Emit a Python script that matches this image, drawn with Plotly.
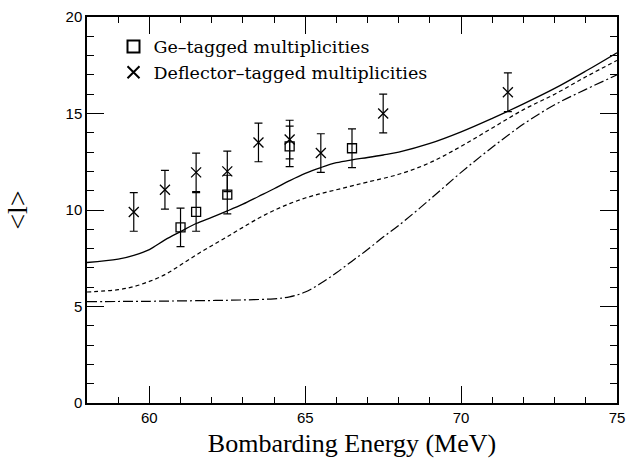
import plotly.graph_objects as go

# Data
ge_x = [61.0, 61.5, 62.5, 64.5, 66.5]
ge_y = [9.1, 9.9, 10.8, 13.3, 13.2]
ge_err = [1.0, 1.0, 1.0, 1.05, 1.0]

def_x = [59.5, 60.5, 61.5, 62.5, 63.5, 64.5, 65.5, 67.5, 71.5]
def_y = [9.9, 11.05, 11.95, 12.0, 13.5, 13.65, 12.95, 15.0, 16.1]
def_err = [1.0, 1.0, 1.0, 1.05, 1.0, 1.0, 1.0, 1.0, 1.0]

solid_x = [58.0, 59.0, 59.5, 60.0, 60.5, 61.0, 61.5, 62.0, 62.5, 63.0, 63.5, 64.0, 64.5, 65.0, 65.5, 66.0, 66.5, 67.0, 67.5, 68.0, 69.0, 70.0, 71.0, 72.0, 73.0, 74.0, 75.0]
solid_y = [7.28, 7.45, 7.65, 7.95, 8.45, 8.88, 9.3, 9.62, 9.95, 10.3, 10.7, 11.1, 11.52, 11.9, 12.2, 12.45, 12.6, 12.72, 12.85, 13.0, 13.45, 14.05, 14.75, 15.5, 16.3, 17.2, 18.15]

dash_x = [58.0, 59.0, 59.5, 60.0, 60.5, 61.0, 61.5, 62.0, 62.5, 63.0, 63.5, 64.0, 64.5, 65.0, 65.5, 66.0, 66.5, 67.0, 68.0, 69.0, 70.0, 71.0, 72.0, 73.0, 74.0, 75.0]
dash_y = [5.75, 5.87, 6.03, 6.3, 6.65, 7.15, 7.67, 8.15, 8.62, 9.1, 9.57, 9.98, 10.33, 10.62, 10.85, 11.05, 11.25, 11.45, 11.85, 12.45, 13.3, 14.25, 15.2, 16.0, 16.9, 17.75]

dd_x = [58.0, 59.0, 60.0, 61.0, 62.0, 63.0, 64.0, 64.5, 65.0, 65.5, 66.0, 66.5, 67.0, 67.5, 68.0, 69.0, 70.0, 71.0, 72.0, 73.0, 74.0, 75.0]
dd_y = [5.25, 5.26, 5.27, 5.29, 5.31, 5.34, 5.4, 5.5, 5.75, 6.2, 6.75, 7.35, 7.95, 8.6, 9.2, 10.55, 11.95, 13.25, 14.45, 15.45, 16.25, 17.0]

xtick_vals = [60, 65, 70, 75]
ytick_vals = [0, 5, 10, 15, 20]

fig = go.Figure()

fig.add_trace(go.Scatter(x=solid_x, y=solid_y, mode="lines", line=dict(color="black", width=1.3, shape="spline"), showlegend=False))
fig.add_trace(go.Scatter(x=dash_x, y=dash_y, mode="lines", line=dict(color="black", width=1.2, dash="4px,3px", shape="spline"), showlegend=False))
fig.add_trace(go.Scatter(x=dd_x, y=dd_y, mode="lines", line=dict(color="black", width=1.2, dash="10px,3px,2px,3px", shape="spline"), showlegend=False))

fig.add_trace(go.Scatter(
    x=ge_x, y=ge_y, mode="markers", name="Ge\u2013tagged multiplicities",
    marker=dict(symbol="square-open", size=9, color="black", line=dict(width=1.3)),
    error_y=dict(type="data", array=ge_err, color="black", thickness=1.2, width=4),
))
fig.add_trace(go.Scatter(
    x=def_x, y=def_y, mode="markers", name="Deflector\u2013tagged multiplicities",
    marker=dict(symbol="x-thin-open", size=10, color="black", line=dict(width=1.3, color="black")),
    error_y=dict(type="data", array=def_err, color="black", thickness=1.2, width=4),
))

axis_common = dict(
    showline=True, linecolor="black", linewidth=1.5, mirror="allticks",
    ticks="inside", ticklen=17, tickwidth=1.2, tickcolor="black",
    showgrid=False, zeroline=False, automargin=False,
    tickfont=dict(family="Liberation Sans, Arial", size=15, color="black"),
)

fig.update_layout(
    width=628, height=458,
    margin=dict(l=87, r=11, t=17, b=55),
    paper_bgcolor="white", plot_bgcolor="white",
    xaxis=dict(
        range=[58, 75], tickvals=xtick_vals,
        minor=dict(dtick=1, ticks="inside", ticklen=6, tickwidth=1, tickcolor="black"),
        title=dict(text="Bombarding Energy (MeV)", font=dict(family="Liberation Serif", size=26, color="black"), standoff=14),
        **axis_common,
    ),
    yaxis=dict(
        range=[0, 20], tickvals=ytick_vals,
        minor=dict(dtick=1, ticks="inside", ticklen=7, tickwidth=1, tickcolor="black"),
        title=dict(text="&lt;l&gt;", font=dict(family="Liberation Serif", size=28, color="black"), standoff=30),
        **axis_common,
    ),
    legend=dict(
        x=0.05, y=0.97, xanchor="left", yanchor="top",
        bgcolor="rgba(0,0,0,0)", borderwidth=0,
        font=dict(family="DejaVu Serif", size=17.5, color="black"),
        itemsizing="constant",
    ),
)

fig.write_html("out.html")
